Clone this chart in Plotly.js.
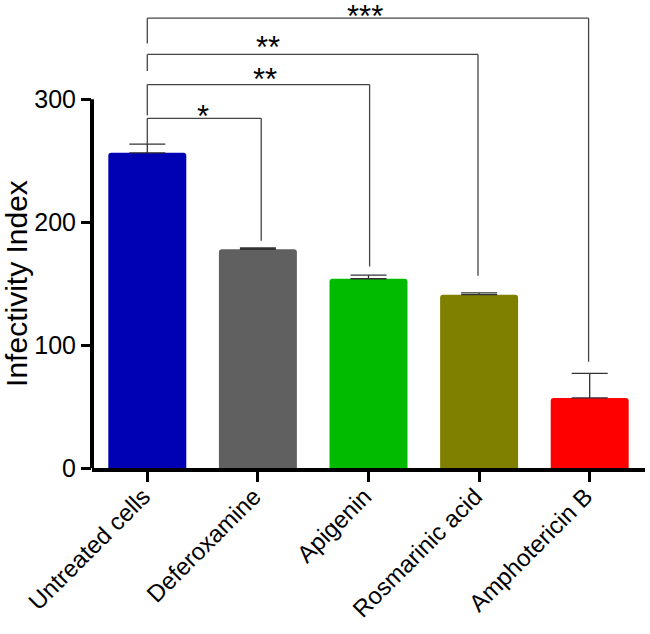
<!DOCTYPE html>
<html>
<head>
<meta charset="utf-8">
<script src="https://cdn.plot.ly/plotly-3.0.1.min.js"></script>
<style>
  html, body { margin: 0; padding: 0; background: #fff; }
  #plot { width: 650px; height: 634px; }
</style>
</head>
<body>
<div id="plot"></div>
<script>
const groups = ['Untreated cells', 'Deferoxamine', 'Apigenin', 'Rosmarinic acid', 'Amphotericin B'];
const infectivity = [256.5, 178, 154, 141, 57];
const errUp = [7, 1, 3, 1.5, 20];
const barColors = ['#0000b4', '#606060', '#00bb00', '#808000', '#ff0000'];

// significance brackets: first bar against each treated bar
const bracketFrom = [0, 0, 0, 0];
const bracketTo = [1.03, 2.01, 2.99, 3.99];
const bracketTop = [284.5, 312, 336.5, 366];
const bracketLeftEnd = [263.5, 287, 323, 345.5];
const bracketRightEnd = [185, 164, 156.5, 86.5];
const starText = ['*', '**', '**', '***'];
const starX = [0.5, 1.06, 1.09, 1.97];
const starY = [286, 316.5, 342.5, 367];

const font = 'Arial, "Liberation Sans", sans-serif';

const bars = {
  type: 'bar',
  x: groups,
  y: infectivity,
  width: 0.705,
  marker: { color: barColors, line: { width: 0 } },
  error_y: {
    type: 'data',
    symmetric: false,
    array: errUp,
    arrayminus: errUp.map(() => 0),
    color: '#333',
    thickness: 1.3,
    width: 18,
  },
  hoverinfo: 'none',
};

const lineStyle = { color: '#444', width: 1.3 };
const shapes = [];
bracketTop.forEach((top, i) => {
  shapes.push({ type: 'line', xref: 'x', yref: 'y', x0: bracketFrom[i], x1: bracketTo[i], y0: top, y1: top, line: lineStyle });
  shapes.push({ type: 'line', xref: 'x', yref: 'y', x0: bracketFrom[i], x1: bracketFrom[i], y0: top, y1: bracketLeftEnd[i], line: lineStyle });
  shapes.push({ type: 'line', xref: 'x', yref: 'y', x0: bracketTo[i], x1: bracketTo[i], y0: top, y1: bracketRightEnd[i], line: lineStyle });
});
// y axis line only runs up to 300
shapes.push({ type: 'line', xref: 'paper', yref: 'y', x0: 0, x1: 0, y0: -1.5, y1: 300, line: { color: '#000', width: 4 } });

const annotations = starText.map((t, i) => ({
  text: t, x: starX[i], y: starY[i], xref: 'x', yref: 'y',
  showarrow: false, xanchor: 'center', yanchor: 'middle',
  font: { family: font, size: 31, color: '#000' },
}));
annotations.push({
  text: 'Infectivity Index', textangle: -90,
  xref: 'paper', yref: 'y', x: -0.137, y: 150,
  xanchor: 'center', yanchor: 'middle', showarrow: false,
  font: { family: font, size: 30, color: '#000' },
});

Plotly.newPlot('plot', [bars], {
  width: 650,
  height: 634,
  margin: { l: 92, r: 5, t: 1, b: 166 },
  paper_bgcolor: '#fff',
  plot_bgcolor: '#fff',
  showlegend: false,
  barcornerradius: 3,
  font: { family: font, color: '#000' },
  xaxis: {
    type: 'category',
    range: [-0.5, 4.5],
    showline: true,
    linecolor: '#000',
    linewidth: 4,
    ticks: 'outside',
    ticklen: 10,
    tickwidth: 3,
    tickcolor: '#000',
    tickangle: -45,
    ticklabelstandoff: -9,
    ticklabelshift: -4,
    tickfont: { family: font, size: 24, color: '#000' },
    showgrid: false,
    zeroline: false,
    fixedrange: true,
  },
  yaxis: {
    range: [0, 380],
    tickvals: [0, 100, 200, 300],
    showline: false,
    ticks: 'outside',
    ticklen: 10,
    tickwidth: 3,
    tickcolor: '#000',
    tickfont: { family: font, size: 25, color: '#000' },
    showgrid: false,
    zeroline: false,
    fixedrange: true,
  },
  shapes: shapes,
  annotations: annotations,
}, { displayModeBar: false, staticPlot: true });
</script>
</body>
</html>
